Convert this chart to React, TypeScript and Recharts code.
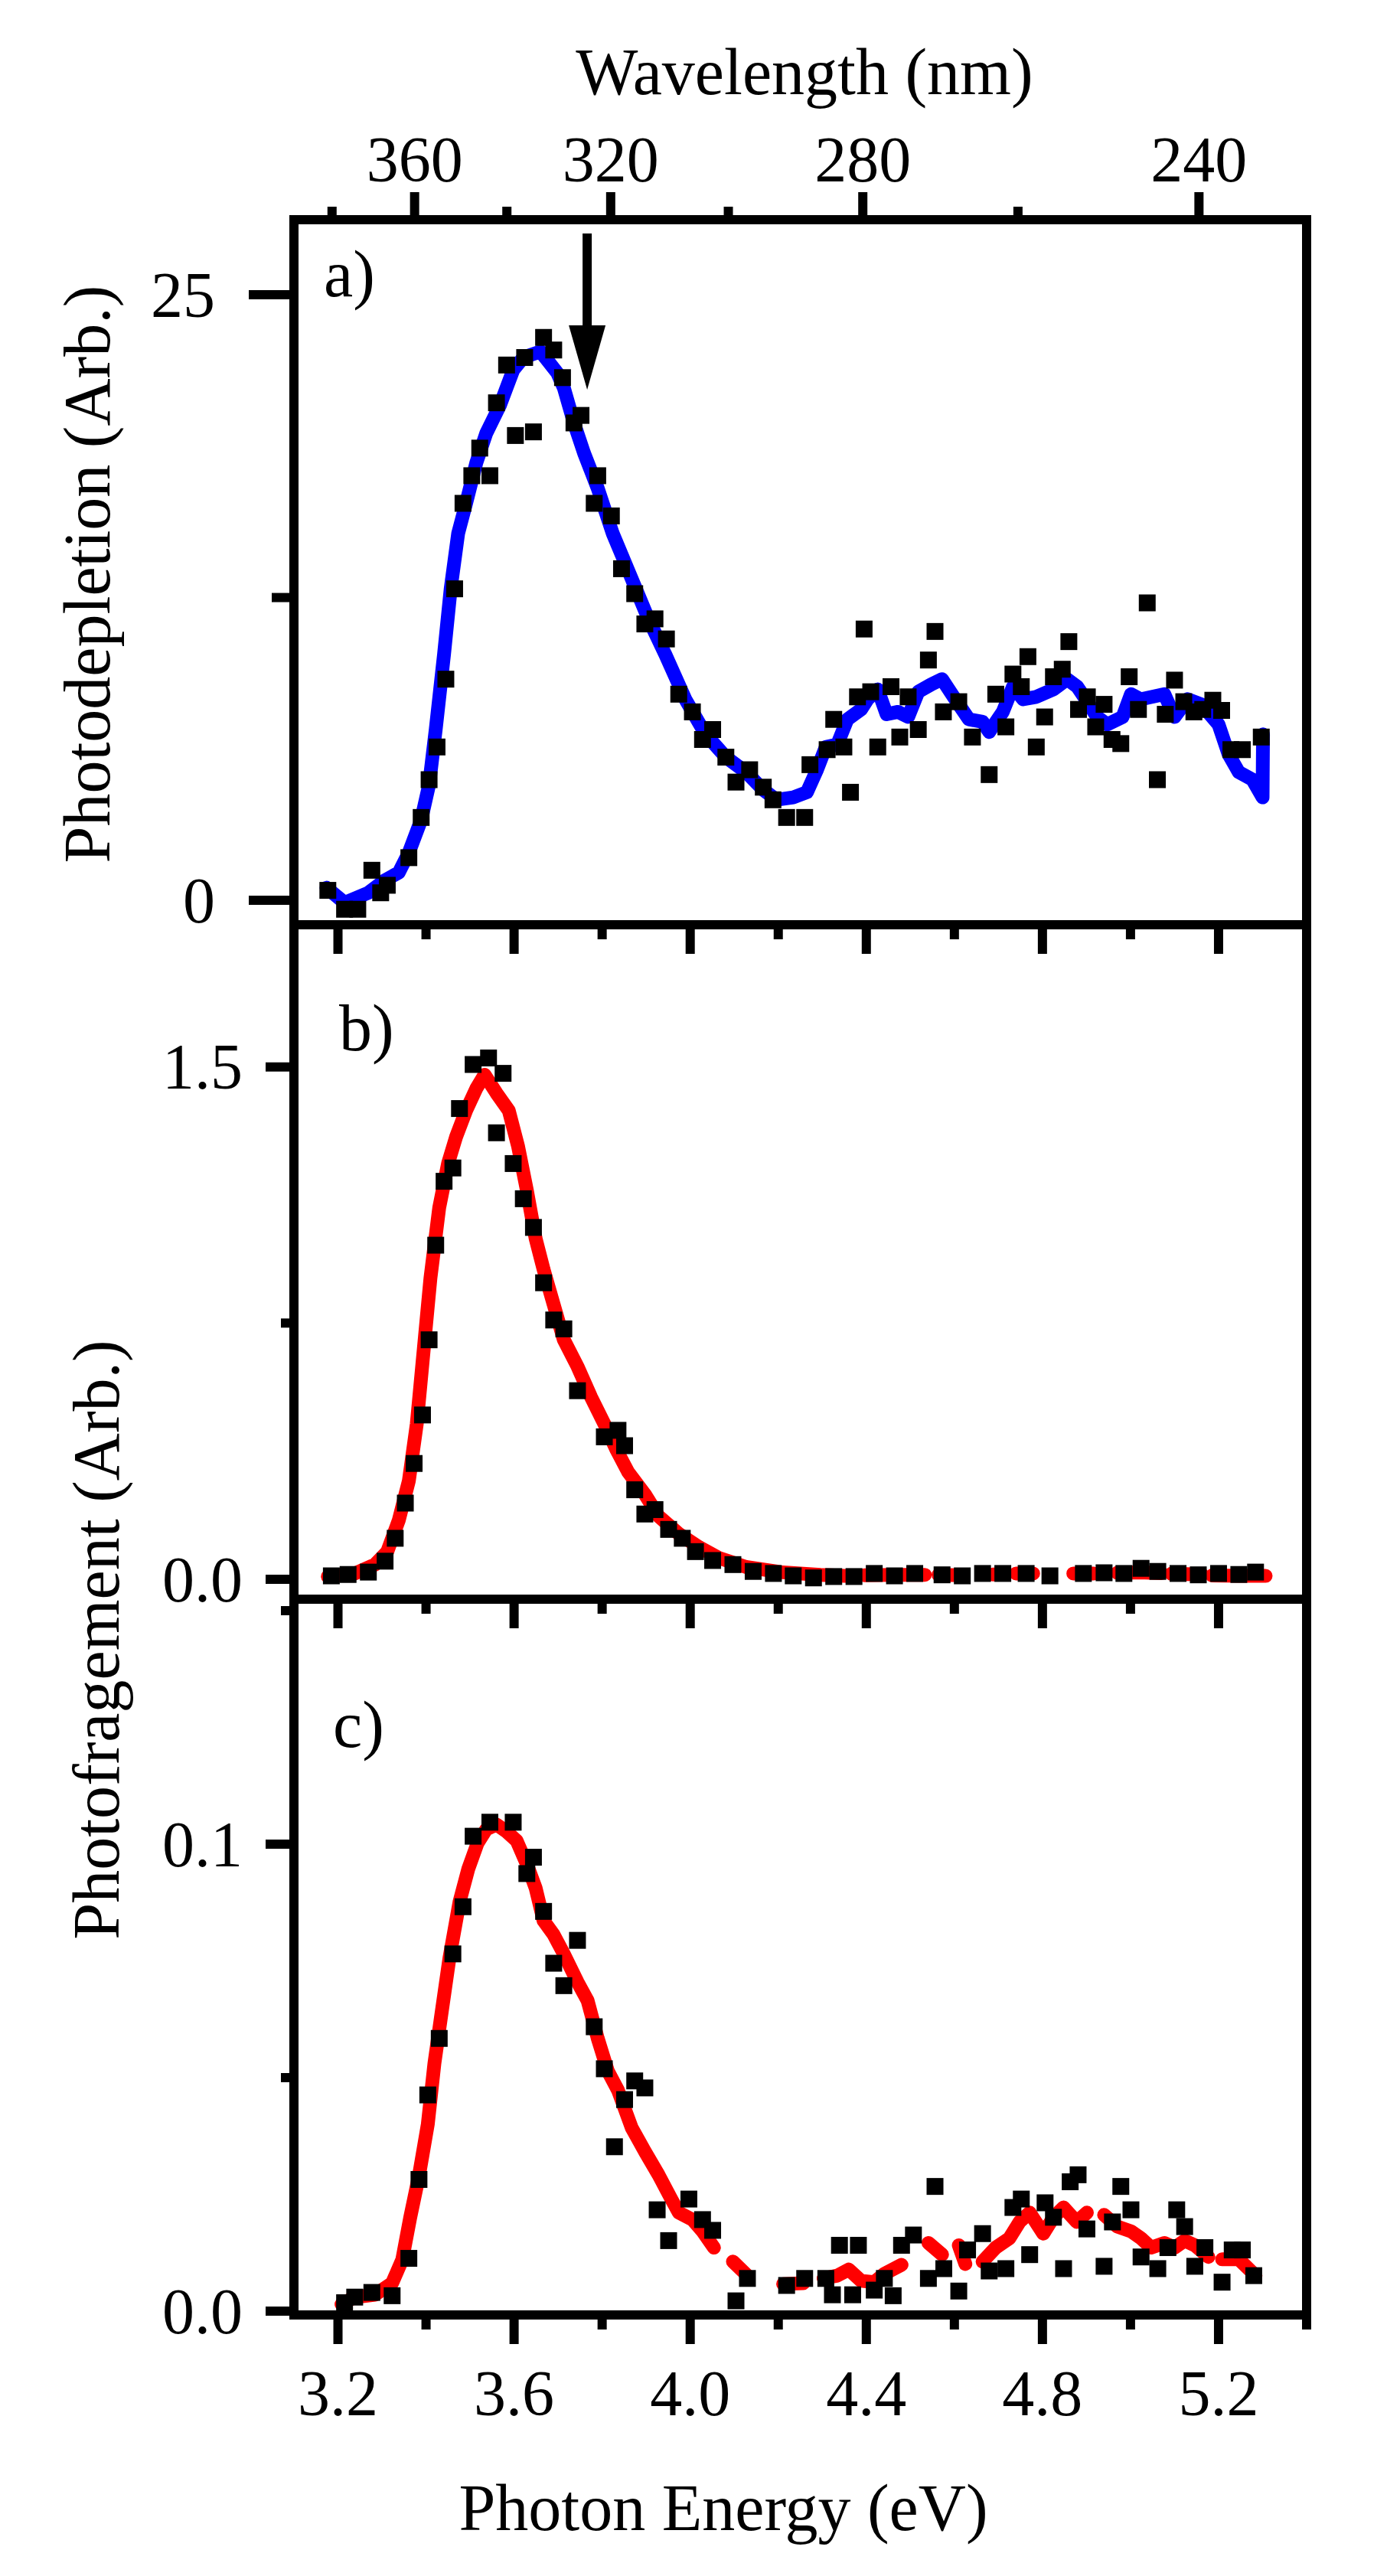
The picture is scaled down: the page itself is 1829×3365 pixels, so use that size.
import {
  ComposedChart,
  Line,
  Scatter,
  XAxis,
  YAxis,
  ReferenceLine,
  Customized,
} from 'recharts';

const HC = 1239.84; // eV*nm
const W = 1829;
const H = 3365;
const FRAME_R = 1707;
const SERIF = '"Liberation Serif", "Times New Roman", Times, serif';

// photon energy axis (eV)
const energyDomain: [number, number] = [3.1, 5.4];
const energyTicks = [3.2, 3.4, 3.6, 3.8, 4.0, 4.2, 4.4, 4.6, 4.8, 5.0, 5.2, 5.4];

// wavelength axis (nm) on top of panel a, ends of the scale
const wavelengthTicks = [380, 360, 340, 320, 300, 280, 260, 240];
const wavelengthEnds = [390, 229.5];

// a) photodepletion
const depletionDomain: [number, number] = [-1.01, 28.1];
const depletionTicks = [0, 12.5, 25];
const depletionPoints: [number, number][] = [
  [3.177, 0.41], [3.215, -0.37], [3.245, -0.37], [3.277, 1.24], [3.297, 0.31], [3.312, 0.62],
  [3.361, 1.76], [3.389, 3.42], [3.407, 4.98], [3.425, 6.33], [3.445, 9.13], [3.465, 12.86],
  [3.484, 16.39], [3.504, 17.53], [3.522, 18.67], [3.545, 17.53], [3.56, 20.54], [3.583, 22.1],
  [3.603, 19.19], [3.624, 22.41], [3.644, 19.34], [3.667, 23.24], [3.69, 22.72], [3.71, 21.58],
  [3.736, 19.71], [3.752, 20.02], [3.782, 16.39], [3.79, 17.53], [3.821, 15.87], [3.844, 13.69],
  [3.874, 12.66], [3.897, 11.41], [3.92, 11.62], [3.946, 10.79], [3.974, 8.51], [4.005, 7.78],
  [4.028, 6.64], [4.051, 7.05], [4.081, 5.91], [4.104, 4.88], [4.135, 5.39], [4.166, 4.67],
  [4.188, 4.15], [4.219, 3.42], [4.26, 3.42], [4.272, 5.6], [4.311, 6.22], [4.326, 7.47],
  [4.349, 6.33], [4.364, 4.46], [4.38, 8.4], [4.395, 11.2], [4.41, 8.61], [4.426, 6.33],
  [4.456, 8.82], [4.476, 6.74], [4.495, 8.4], [4.518, 7.05], [4.541, 9.92], [4.556, 11.1],
  [4.575, 7.78], [4.61, 8.2], [4.641, 6.74], [4.679, 5.19], [4.694, 8.51], [4.717, 7.16],
  [4.733, 9.34], [4.752, 8.82], [4.767, 10.06], [4.786, 6.33], [4.805, 7.57], [4.825, 9.23],
  [4.845, 9.54], [4.86, 10.68], [4.882, 7.88], [4.902, 8.4], [4.921, 7.16], [4.94, 8.09],
  [4.958, 6.64], [4.978, 6.47], [4.997, 9.23], [5.018, 7.88], [5.038, 12.28], [5.061, 4.98],
  [5.079, 7.68], [5.1, 9.09], [5.121, 8.2], [5.144, 7.78], [5.164, 7.88], [5.187, 8.26],
  [5.207, 7.84], [5.228, 6.22], [5.254, 6.22], [5.297, 6.74],
];
const depletionFit: [number, number][] = [
  [3.174, 0.52], [3.215, -0.1], [3.269, 0.31], [3.307, 0.83], [3.338, 1.14], [3.361, 1.97],
  [3.389, 3.32], [3.407, 4.77], [3.422, 7.05], [3.441, 10.17], [3.456, 12.86], [3.473, 15.15],
  [3.491, 16.39], [3.514, 18.05], [3.537, 19.29], [3.568, 20.44], [3.598, 21.89], [3.621, 22.41],
  [3.66, 22.66], [3.698, 21.78], [3.713, 21.16], [3.736, 19.71], [3.759, 18.46], [3.79, 17.01],
  [3.824, 15.15], [3.867, 13.28], [3.905, 11.62], [3.943, 10.17], [3.989, 8.3], [4.035, 6.85],
  [4.081, 5.91], [4.127, 5.29], [4.166, 4.56], [4.196, 4.15], [4.234, 4.25], [4.265, 4.46],
  [4.288, 5.39], [4.308, 6.33], [4.334, 6.43], [4.357, 7.47], [4.388, 7.88], [4.403, 8.3],
  [4.426, 8.71], [4.446, 7.68], [4.472, 7.78], [4.495, 7.57], [4.518, 8.61], [4.548, 8.92],
  [4.572, 9.13], [4.602, 8.3], [4.633, 7.47], [4.664, 7.37], [4.679, 6.95], [4.71, 7.78],
  [4.733, 8.82], [4.756, 8.3], [4.786, 8.4], [4.825, 8.71], [4.856, 9.13], [4.879, 8.82],
  [4.902, 8.2], [4.924, 7.57], [4.947, 7.26], [4.982, 7.57], [5.001, 8.51], [5.023, 8.3],
  [5.077, 8.51], [5.1, 7.57], [5.13, 8.3], [5.161, 8.09], [5.2, 7.26], [5.223, 6.02],
  [5.246, 5.29], [5.277, 4.98], [5.3, 4.25], [5.301, 6.85],
];
const arrowEnergy = 3.766;
const arrowFrom = 27.53;
const arrowTo = 21.08;

// b) photofragment
const fragmentBDomain: [number, number] = [-0.0583, 1.916];
const fragmentBTicks = [0, 0.75, 1.5];
const fragmentBPoints: [number, number][] = [
  [3.185, 0.01], [3.223, 0.014], [3.269, 0.021], [3.307, 0.053], [3.33, 0.12], [3.353, 0.223],
  [3.373, 0.339], [3.392, 0.481], [3.407, 0.701], [3.422, 0.978], [3.441, 1.165], [3.461, 1.204],
  [3.476, 1.378], [3.507, 1.507], [3.542, 1.526], [3.575, 1.481], [3.56, 1.307], [3.598, 1.217],
  [3.621, 1.114], [3.644, 1.03], [3.667, 0.868], [3.69, 0.759], [3.713, 0.733], [3.744, 0.552],
  [3.805, 0.417], [3.836, 0.436], [3.851, 0.391], [3.874, 0.262], [3.897, 0.191], [3.92, 0.204],
  [3.951, 0.146], [3.982, 0.12], [4.012, 0.081], [4.051, 0.055], [4.097, 0.043], [4.143, 0.023],
  [4.189, 0.017], [4.234, 0.01], [4.28, 0.004], [4.326, 0.008], [4.372, 0.008], [4.418, 0.017],
  [4.464, 0.01], [4.51, 0.017], [4.572, 0.013], [4.618, 0.01], [4.664, 0.017], [4.71, 0.017],
  [4.763, 0.017], [4.817, 0.01], [4.893, 0.017], [4.94, 0.019], [4.985, 0.017], [5.024, 0.032],
  [5.062, 0.023], [5.108, 0.017], [5.154, 0.013], [5.2, 0.017], [5.246, 0.014], [5.284, 0.021],
];
const fragmentBFit: [number, number | null][] = [
  [3.177, 0.008], [3.238, 0.017], [3.284, 0.043], [3.312, 0.081], [3.338, 0.172], [3.361, 0.288],
  [3.379, 0.455], [3.395, 0.675], [3.41, 0.881], [3.43, 1.088], [3.45, 1.217], [3.468, 1.294],
  [3.491, 1.372], [3.514, 1.436], [3.533, 1.477], [3.56, 1.423], [3.588, 1.372], [3.609, 1.268],
  [3.629, 1.139], [3.649, 0.997], [3.667, 0.907], [3.69, 0.804], [3.713, 0.701], [3.744, 0.623],
  [3.775, 0.533], [3.805, 0.455], [3.833, 0.378], [3.859, 0.314], [3.897, 0.249], [3.928, 0.185],
  [3.974, 0.133], [4.02, 0.094], [4.066, 0.062], [4.127, 0.036], [4.204, 0.021], [4.296, 0.013],
  [4.372, 0.009], [4.385, null], [4.395, 0.012], [4.46, 0.013], [4.533, 0.013], [4.55, null],
  [4.564, 0.013], [4.618, 0.012], [4.65, null], [4.687, 0.014], [4.717, 0.015], [4.73, null],
  [4.74, 0.017], [4.779, 0.017], [4.82, null], [4.87, 0.017], [4.917, 0.017], [4.94, null],
  [4.97, 0.019], [5.02, 0.02], [5.07, 0.018], [5.08, null], [5.093, 0.016], [5.162, 0.014],
  [5.175, null], [5.185, 0.011], [5.25, 0.01], [5.307, 0.01],
];

// c) photofragment, second channel
const fragmentCDomain: [number, number] = [-0.00082, 0.15246];
const fragmentCTicks = [0, 0.05, 0.1, 0.15];
const fragmentCPoints: [number, number][] = [
  [3.215, 0.0018], [3.238, 0.003], [3.277, 0.004], [3.323, 0.0033], [3.361, 0.0113], [3.384, 0.0282],
  [3.404, 0.0463], [3.43, 0.0584], [3.461, 0.0765], [3.484, 0.0866], [3.507, 0.1017], [3.545, 0.1047],
  [3.598, 0.1047], [3.629, 0.0937], [3.644, 0.0972], [3.667, 0.0856], [3.69, 0.0745], [3.713, 0.0697],
  [3.744, 0.0794], [3.782, 0.0609], [3.805, 0.0519], [3.828, 0.0352], [3.851, 0.0453], [3.874, 0.0493],
  [3.897, 0.0478], [3.925, 0.0217], [3.951, 0.0151], [3.997, 0.024], [4.028, 0.0196], [4.051, 0.0173],
  [4.104, 0.0022], [4.13, 0.007], [4.219, 0.0055], [4.26, 0.007], [4.308, 0.007], [4.323, 0.0035],
  [4.339, 0.0141], [4.369, 0.0035], [4.382, 0.0141], [4.418, 0.0045], [4.441, 0.007], [4.461, 0.0033],
  [4.48, 0.0141], [4.507, 0.0163], [4.541, 0.007], [4.556, 0.0267], [4.576, 0.0091], [4.61, 0.0043],
  [4.63, 0.0131], [4.664, 0.0166], [4.679, 0.0086], [4.717, 0.0091], [4.733, 0.0222], [4.752, 0.024],
  [4.771, 0.0121], [4.806, 0.0232], [4.825, 0.0201], [4.848, 0.0091], [4.863, 0.0277], [4.881, 0.0292],
  [4.901, 0.0176], [4.94, 0.0096], [4.959, 0.0191], [4.978, 0.0267], [5.001, 0.0217], [5.024, 0.0116],
  [5.062, 0.0091], [5.085, 0.0136], [5.105, 0.0217], [5.123, 0.0181], [5.146, 0.0096], [5.169, 0.0136],
  [5.208, 0.0062], [5.231, 0.0131], [5.254, 0.0131], [5.28, 0.0076],
];
const fragmentCFit: [number, number | null][] = [
  [3.208, 0.0015], [3.238, 0.003], [3.284, 0.0035], [3.323, 0.006], [3.346, 0.011], [3.364, 0.02],
  [3.384, 0.029], [3.404, 0.04], [3.419, 0.053], [3.434, 0.063], [3.453, 0.0755], [3.476, 0.0876],
  [3.496, 0.0947], [3.517, 0.1002], [3.537, 0.1032], [3.56, 0.1042], [3.583, 0.1027], [3.606, 0.1007],
  [3.629, 0.0957], [3.649, 0.0906], [3.667, 0.0836], [3.69, 0.0806], [3.713, 0.0765], [3.744, 0.0705],
  [3.767, 0.0665], [3.79, 0.0584], [3.813, 0.0514], [3.836, 0.0473], [3.867, 0.0393], [3.897, 0.0342],
  [3.928, 0.0292], [3.956, 0.0242], [3.974, 0.0211], [4.005, 0.0196], [4.028, 0.0171], [4.054, 0.0136],
  [4.075, null], [4.097, 0.0106], [4.13, 0.0076], [4.17, null], [4.211, 0.0058], [4.257, 0.006],
  [4.28, null], [4.303, 0.007], [4.334, 0.0076], [4.36, 0.0089], [4.388, 0.0065], [4.418, 0.0062],
  [4.441, 0.008], [4.48, 0.0099], [4.51, null], [4.541, 0.0146], [4.572, 0.0121], [4.59, null],
  [4.61, 0.0141], [4.625, 0.0101], [4.645, null], [4.664, 0.0106], [4.694, 0.0136], [4.725, 0.0156],
  [4.748, 0.0191], [4.771, 0.0211], [4.802, 0.0166], [4.825, 0.0201], [4.848, 0.0222], [4.878, 0.0191],
  [4.901, 0.0211], [4.92, null], [4.94, 0.0206], [4.97, 0.0181], [5.001, 0.0171], [5.024, 0.0156],
  [5.047, 0.0136], [5.077, 0.0146], [5.1, 0.0136], [5.123, 0.0151], [5.146, 0.0141], [5.177, 0.0116],
  [5.195, null], [5.208, 0.0111], [5.246, 0.0111], [5.284, 0.0076],
];

const toRows = (pts: [number, number | null][]) => pts.map(([e, v]) => ({ e, v }));

const frameLine = { stroke: '#000', strokeWidth: 12, strokeLinecap: 'square' as const };

function EnergyTick(props: any) {
  const { x, y, payload, showLabel } = props;
  const v = payload.value as number;
  const major = Math.round(v * 10) % 4 === 0;
  return (
    <g>
      <line x1={x} y1={y} x2={x} y2={y + (major ? 38 : 19)} stroke="#000" strokeWidth={12} />
      {showLabel && major && (
        <text x={x} y={y + 131} textAnchor="middle" fontSize={84} fontFamily={SERIF} fill="#000">
          {v.toFixed(1)}
        </text>
      )}
    </g>
  );
}

function WavelengthTick(props: any) {
  const { x, y, payload } = props;
  const wl = Math.round(HC / payload.value);
  const major = wl % 40 === 0;
  return (
    <g>
      <line x1={x} y1={y} x2={x} y2={y - (major ? 36 : 17)} stroke="#000" strokeWidth={12} />
      {major && (
        <text x={x} y={y - 50} textAnchor="middle" fontSize={84} fontFamily={SERIF} fill="#000">
          {wl}
        </text>
      )}
    </g>
  );
}

function ValueTick(props: any) {
  const { x, y, payload, majors, majorLen, minorLen, gap, digits } = props;
  const v = payload.value as number;
  const major = majors.includes(v);
  return (
    <g>
      <line x1={x} y1={y} x2={x - (major ? majorLen : minorLen)} y2={y} stroke="#000" strokeWidth={12} />
      {major && (
        <text x={x - gap} y={y} dy="0.34em" textAnchor="end" fontSize={84} fontFamily={SERIF} fill="#000">
          {v.toFixed(digits)}
        </text>
      )}
    </g>
  );
}

const squareShape = (p: any) => (
  <rect x={p.cx - 11} y={p.cy - 11} width={22} height={22} fill="#000" />
);
const hiddenShape = () => <g />;

function Arrow(p: any) {
  const top = Math.min(p.y1, p.y2);
  const tip = Math.max(p.y1, p.y2);
  const x = p.x1;
  return (
    <g>
      <line x1={x} y1={top} x2={x} y2={tip - 70} stroke="#000" strokeWidth={12} />
      <polygon points={`${x - 24},${tip - 84} ${x + 24},${tip - 84} ${x},${tip}`} fill="#000" />
    </g>
  );
}

function PanelLetter({ x, y, text }: { x: number; y: number; text: string }) {
  return (
    <text x={x} y={y} fontSize={86} fontFamily={SERIF} fill="#000">
      {text}
    </text>
  );
}

function yTitle(x: number, y: number, text: string) {
  return () => (
    <text
      transform={`translate(${x},${y}) rotate(-90)`}
      textAnchor="middle"
      fontSize={86}
      fontFamily={SERIF}
      fill="#000"
    >
      {text}
    </text>
  );
}

function xTitle(x: number, y: number, text: string) {
  return () => (
    <text x={x} y={y} textAnchor="middle" fontSize={86} fontFamily={SERIF} fill="#000">
      {text}
    </text>
  );
}

const layer = { position: 'absolute' as const, left: 0, top: 0 };

function EnergyAxis({ height, showLabel, label }: { height: number; showLabel?: boolean; label?: any }) {
  return (
    <XAxis
      xAxisId="e"
      dataKey="e"
      type="number"
      domain={energyDomain}
      allowDataOverflow
      ticks={energyTicks}
      interval={0}
      tickSize={0}
      tickMargin={0}
      tickLine={false}
      axisLine={frameLine}
      height={height}
      tick={(p: any) => <EnergyTick {...p} showLabel={showLabel} />}
      label={label}
    />
  );
}

const lineStyle = {
  type: 'linear' as const,
  strokeWidth: 18,
  strokeLinecap: 'round' as const,
  strokeLinejoin: 'round' as const,
  dot: false,
  activeDot: false,
  connectNulls: false,
  isAnimationActive: false,
};

function PanelA() {
  return (
    <ComposedChart width={W} height={H} margin={{ top: 87, right: W - FRAME_R, bottom: H - 1208 - 60, left: 0 }}>
      {EnergyAxis({ height: 60 })}
      <XAxis
        xAxisId="wl"
        dataKey="e"
        orientation="top"
        type="number"
        domain={[HC / wavelengthEnds[0], HC / wavelengthEnds[1]]}
        allowDataOverflow
        ticks={wavelengthTicks.map((w) => HC / w)}
        interval={0}
        tickSize={0}
        tickMargin={0}
        tickLine={false}
        axisLine={frameLine}
        height={200}
        tick={(p: any) => <WavelengthTick {...p} />}
        label={xTitle(1051, 123, 'Wavelength (nm)')}
      />
      <YAxis
        yAxisId="v"
        type="number"
        domain={depletionDomain}
        allowDataOverflow
        ticks={depletionTicks}
        interval={0}
        tickSize={0}
        tickMargin={0}
        tickLine={false}
        axisLine={frameLine}
        width={384}
        tick={(p: any) => <ValueTick {...p} majors={[0, 25]} majorLen={59} minorLen={29} gap={103} digits={0} />}
        label={yTitle(143, 750, 'Photodepletion (Arb.)')}
      />
      <ReferenceLine xAxisId="e" yAxisId="v" x={energyDomain[1]} stroke="#000" strokeWidth={12} />
      {/* invisible series so the wavelength scale is built */}
      <Scatter
        xAxisId="wl"
        yAxisId="v"
        data={wavelengthEnds.map((w) => ({ e: HC / w, v: 0 }))}
        dataKey="v"
        shape={hiddenShape}
        isAnimationActive={false}
      />
      <Scatter
        xAxisId="e"
        yAxisId="v"
        data={toRows(depletionPoints)}
        dataKey="v"
        shape={squareShape}
        isAnimationActive={false}
      />
      <Line xAxisId="e" yAxisId="v" data={toRows(depletionFit)} dataKey="v" stroke="#0000ff" {...lineStyle} />
      <ReferenceLine
        xAxisId="e"
        yAxisId="v"
        segment={[
          { x: arrowEnergy, y: arrowFrom },
          { x: arrowEnergy, y: arrowTo },
        ]}
        shape={(p: any) => <Arrow {...p} />}
      />
      <Customized component={<PanelLetter x={423} y={387} text="a)" />} />
    </ComposedChart>
  );
}

function PanelB() {
  return (
    <ComposedChart width={W} height={H} margin={{ top: 1208, right: W - FRAME_R, bottom: H - 2089 - 60, left: 0 }}>
      {EnergyAxis({ height: 60 })}
      <YAxis
        yAxisId="v"
        type="number"
        domain={fragmentBDomain}
        allowDataOverflow
        ticks={fragmentBTicks}
        interval={0}
        tickSize={0}
        tickMargin={0}
        tickLine={false}
        axisLine={frameLine}
        width={384}
        tick={(p: any) => <ValueTick {...p} majors={[0, 1.5]} majorLen={37} minorLen={17} gap={67} digits={1} />}
        label={yTitle(155, 2142, 'Photofragement (Arb.)')}
      />
      <ReferenceLine xAxisId="e" yAxisId="v" x={energyDomain[1]} stroke="#000" strokeWidth={12} />
      <Scatter
        xAxisId="e"
        yAxisId="v"
        data={toRows(fragmentBPoints)}
        dataKey="v"
        shape={squareShape}
        isAnimationActive={false}
      />
      <Line xAxisId="e" yAxisId="v" data={toRows(fragmentBFit)} dataKey="v" stroke="#ff0000" {...lineStyle} />
      <Customized component={<PanelLetter x={443} y={1372} text="b)" />} />
    </ComposedChart>
  );
}

function PanelC() {
  return (
    <ComposedChart width={W} height={H} margin={{ top: 2089, right: W - FRAME_R, bottom: H - 3024 - 300, left: 0 }}>
      {EnergyAxis({ height: 300, showLabel: true, label: xTitle(945, 3305, 'Photon Energy (eV)') })}
      <YAxis
        yAxisId="v"
        type="number"
        domain={fragmentCDomain}
        allowDataOverflow
        ticks={fragmentCTicks}
        interval={0}
        tickSize={0}
        tickMargin={0}
        tickLine={false}
        axisLine={frameLine}
        width={384}
        tick={(p: any) => <ValueTick {...p} majors={[0, 0.1]} majorLen={37} minorLen={17} gap={67} digits={1} />}
      />
      <ReferenceLine xAxisId="e" yAxisId="v" x={energyDomain[1]} stroke="#000" strokeWidth={12} />
      <Scatter
        xAxisId="e"
        yAxisId="v"
        data={toRows(fragmentCPoints)}
        dataKey="v"
        shape={squareShape}
        isAnimationActive={false}
      />
      <Line xAxisId="e" yAxisId="v" data={toRows(fragmentCFit)} dataKey="v" stroke="#ff0000" {...lineStyle} />
      <Customized component={<PanelLetter x={435} y={2282} text="c)" />} />
    </ComposedChart>
  );
}

export default function App() {
  return (
    <div style={{ position: 'absolute', left: 0, top: 0, width: W, height: H, background: '#fff' }}>
      <div style={layer}>
        <PanelA />
      </div>
      <div style={layer}>
        <PanelB />
      </div>
      <div style={layer}>
        <PanelC />
      </div>
    </div>
  );
}
